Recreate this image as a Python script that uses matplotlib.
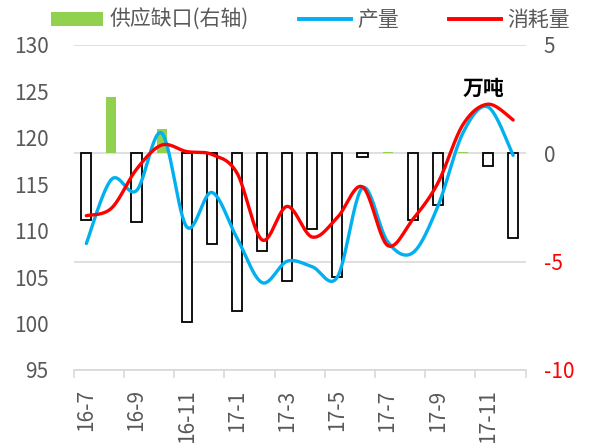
import numpy as np
import matplotlib
matplotlib.use("Agg")
import matplotlib.pyplot as plt
from matplotlib.lines import Line2D
from matplotlib.patches import Patch

plt.rcParams['font.family'] = ['Noto Sans CJK SC', 'DejaVu Sans']

months = ["16-7", "16-8", "16-9", "16-10", "16-11", "16-12", "17-1", "17-2", "17-3",
          "17-4", "17-5", "17-6", "17-7", "17-8", "17-9", "17-10", "17-11", "17-12"]
gap = [-3.1, 2.6, -3.2, 1.1, -7.8, -4.2, -7.3, -4.5, -5.9,
       -3.5, -5.7, -0.2, 0.05, -3.1, -2.4, 0.05, -0.6, -3.9]
production = [108.6, 115.5, 114.3, 120.5, 110.4, 114.1, 109.2, 104.4, 106.7,
              106.1, 105.0, 114.6, 108.8, 107.6, 112.6, 120.5, 123.3, 118.1]
consumption = [111.6, 112.4, 116.6, 119.2, 118.5, 118.2, 116.2, 109.0, 112.6,
               109.3, 111.4, 114.7, 108.4, 111.2, 115.1, 121.4, 123.6, 121.9]

GRAY = '#595959'
GREEN = '#92D050'
BLUE = '#00B0F0'
RED = '#FF0000'


def smooth(x, y, n=30):
    x = np.asarray(x, float)
    y = np.asarray(y, float)
    P = np.column_stack([x, y])
    out = []
    for i in range(len(P) - 1):
        p0 = P[i - 1] if i > 0 else P[i]
        p1 = P[i]
        p2 = P[i + 1]
        p3 = P[i + 2] if i + 2 < len(P) else P[i + 1]
        c1 = p1 + (p2 - p0) / 6.0
        c2 = p2 - (p3 - p1) / 6.0
        t = np.linspace(0, 1, n)[:, None]
        seg = ((1 - t) ** 3) * p1 + 3 * ((1 - t) ** 2) * t * c1 + 3 * (1 - t) * t ** 2 * c2 + t ** 3 * p2
        out.append(seg if i == 0 else seg[1:])
    s = np.vstack(out)
    return s[:, 0], s[:, 1]


fig = plt.figure(figsize=(5.9, 4.43), dpi=100)
ax1 = fig.add_axes([0.125, 0.165, 0.766, 0.734])
ax2 = ax1.twinx()

x = np.arange(len(months))

# bars on right axis
colors = [GREEN if v > 0 else 'white' for v in gap]
edges = ['none' if v > 0 else 'black' for v in gap]
ax1.bar(x, gap, width=0.4, color=colors, edgecolor=edges, linewidth=1.3, zorder=3)
ax1.set_ylim(-10, 5)
ax1.set_yticks([-10, -5, 0, 5])
ax1.yaxis.tick_right()
ax1.yaxis.set_label_position('right')
ax1.set_yticklabels(['-10', '-5', '0', '5'])
for lbl, v in zip(ax1.get_yticklabels(), [-10, -5, 0, 5]):
    lbl.set_color(RED if v < 0 else GRAY)
ax1.tick_params(axis='y', length=0, labelsize=15, pad=13)
ax1.grid(axis='y', color='#D9D9D9', linewidth=1.2, zorder=0)
ax1.set_axisbelow(True)

ax1.set_xlim(-0.5, len(months) - 0.5)
ax1.set_xticks(x[::2])
ax1.set_xticklabels(months[::2], rotation=90, color=GRAY, fontsize=15)
ax1.set_xticks(np.arange(-0.5, len(months), 2), minor=True)
ax1.tick_params(axis='x', which='major', length=0, pad=14)
ax1.tick_params(axis='x', which='minor', length=6, color='#D9D9D9', width=1.2)

for s in ['top', 'left', 'right']:
    ax1.spines[s].set_visible(False)
ax1.spines['bottom'].set_color('#D9D9D9')
ax1.spines['bottom'].set_linewidth(1.2)

# lines on left axis
xs, ys = smooth(x, production)
ax2.plot(xs, ys, color=BLUE, linewidth=2.4, solid_capstyle='round', zorder=4)
xs, ys = smooth(x, consumption)
ax2.plot(xs, ys, color=RED, linewidth=2.4, solid_capstyle='round', zorder=5)
ax2.set_ylim(95, 130)
ax2.set_yticks(np.arange(95, 131, 5))
ax2.yaxis.tick_left()
ax2.tick_params(axis='y', length=0, labelsize=15, labelcolor=GRAY, pad=18)
for s in ['top', 'left', 'right', 'bottom']:
    ax2.spines[s].set_visible(False)
ax2.patch.set_visible(False)

ax2.text(15.8, 125.3, '万吨', fontsize=15, fontweight='bold', color='black', ha='center', va='center')

handles = [Patch(facecolor=GREEN, edgecolor='none'),
           Line2D([0], [0], color=BLUE, linewidth=2.8),
           Line2D([0], [0], color=RED, linewidth=2.8)]
labels = ['供应缺口(右轴)', '产量', '消耗量']
leg = fig.legend(handles, labels, loc='center', bbox_to_anchor=(0.526, 0.955), ncol=3,
                 frameon=False, fontsize=15, handlelength=2.5, handletextpad=0.3,
                 columnspacing=2.4, handleheight=0.65)
for t in leg.get_texts():
    t.set_color(GRAY)

fig.savefig('out.png', dpi=100)
